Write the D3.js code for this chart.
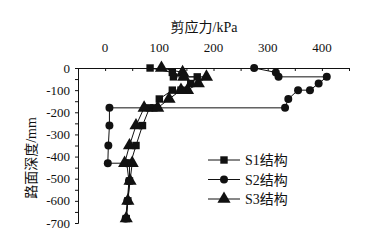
<!DOCTYPE html>
<html>
<head>
<meta charset="utf-8">
<script src="https://cdn.jsdelivr.net/npm/d3@7"></script>
<style>
body { margin: 0; background: #fff; }
text { font-family: "Liberation Serif", "Noto Sans CJK SC", serif; fill: #111; }
</style>
</head>
<body>
<div class="chart"></div>
<script>
var depths = [0, -20, -40, -40, -70, -100, -100, -140, -180, -180, -260, -350, -430, -430, -510, -600, -680];
var s1 = [83, 124, 126, 170, 158, 140, 124, 100, 90, 82, 69, 57, 47, 45, 45, 42, 39];
var s2 = [275, 315, 320, 409, 394, 378, 356, 338, 332, 8, 8, 6, 5, 40, 44, 41, 38];
var s3 = [104, 143, 145, 187, 172, 152, 140, 118, 97, 72, 57, 45, 36, 50, 46, 42, 39];
var seriesNames = ["S1结构", "S2结构", "S3结构"];
var xTicks = [0, 100, 200, 300, 400];
var yTicks = [0, -100, -200, -300, -400, -500, -600, -700];

var w = 379, h = 241;
var svg = d3.select(".chart").append("svg").attr("width", w).attr("height", h);

var x = d3.scaleLinear().domain([-50, 450]).range([78, 349]);
var y = d3.scaleLinear().domain([-700, 0]).range([223, 68]);

// top axis
var xAxis = d3.axisTop(x).tickValues(d3.range(-50, 451, 50)).tickSize(-3).tickFormat("");
svg.append("g").attr("transform", "translate(0,68)").call(xAxis)
  .call(g => g.select(".domain").attr("stroke", "#111"))
  .call(g => g.selectAll("line").attr("stroke", "#111"));
svg.selectAll("text.xt").data(xTicks).enter().append("text")
  .attr("class", "xt")
  .attr("x", d => x(d)).attr("y", 52)
  .attr("text-anchor", "middle").attr("font-size", 13)
  .text(d => d);

// left axis
var yAxis = d3.axisLeft(y).tickValues(d3.range(-700, 1, 50)).tickSize(3).tickFormat("");
svg.append("g").attr("transform", "translate(78,0)").call(yAxis)
  .call(g => g.select(".domain").attr("stroke", "#111"))
  .call(g => g.selectAll("line").attr("stroke", "#111"));
svg.selectAll("text.yt").data(yTicks).enter().append("text")
  .attr("class", "yt")
  .attr("x", 70).attr("y", d => y(d) + 4.5)
  .attr("text-anchor", "end").attr("font-size", 13)
  .text(d => d === 0 ? "0" : "-" + Math.abs(d));

// titles
svg.append("text").attr("x", 204).attr("y", 32).attr("text-anchor", "middle")
  .attr("font-size", 14).text("剪应力/kPa");
svg.append("text").attr("transform", "translate(36,158) rotate(-90)")
  .attr("text-anchor", "middle").attr("font-size", 14).text("路面深度/mm");

var series = [s1, s2, s3].map(function(vals, i) {
  return { name: seriesNames[i], pts: vals.map(function(v, j) { return [v, depths[j]]; }) };
});
var shapes = [d3.symbolSquare, d3.symbolCircle, d3.symbolTriangle];
var sizes = [55, 50, 75];

var line = d3.line().x(d => x(d[0])).y(d => y(d[1]));

series.forEach(function(s, i) {
  svg.append("path").attr("d", line(s.pts))
    .attr("fill", "none").attr("stroke", "#111").attr("stroke-width", 1);
  svg.selectAll("path.m" + i).data(s.pts).enter().append("path")
    .attr("class", "m" + i)
    .attr("transform", d => "translate(" + x(d[0]) + "," + y(d[1]) + ")")
    .attr("d", d3.symbol().type(shapes[i]).size(sizes[i]))
    .attr("fill", "#111");
});

// legend
var legend = svg.selectAll("g.leg").data(series).enter().append("g")
  .attr("class", "leg")
  .attr("transform", (d, i) => "translate(208," + (160 + i * 19.5) + ")");
legend.append("line").attr("x1", 0).attr("x2", 32).attr("stroke", "#111");
legend.append("path").attr("transform", "translate(16,0)")
  .attr("d", (d, i) => d3.symbol().type(shapes[i]).size(sizes[i])())
  .attr("fill", "#111");
legend.append("text").attr("x", 37).attr("y", 5).attr("font-size", 14).text(d => d.name);
</script>
</body>
</html>
